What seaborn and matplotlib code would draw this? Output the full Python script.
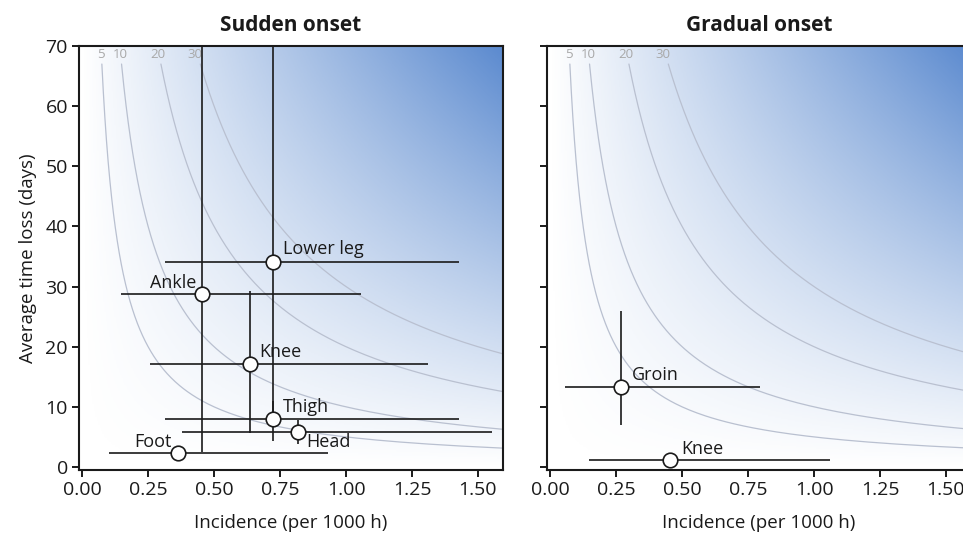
import numpy as np
import pandas as pd
import matplotlib.pyplot as plt
import seaborn as sns
from matplotlib.colors import LinearSegmentedColormap

# Values: incidence (per 1000 h) and average time loss (days)
sudden_sites = ['Lower leg', 'Ankle', 'Knee', 'Thigh', 'Head', 'Foot']
sudden_incidence = [0.723, 0.455, 0.636, 0.723, 0.817, 0.365]
sudden_inc_low = [0.314, 0.148, 0.258, 0.314, 0.377, 0.102]
sudden_inc_high = [1.428, 1.057, 1.310, 1.430, 1.552, 0.930]
sudden_days = [34.1, 28.8, 17.1, 8.0, 5.9, 2.3]
sudden_days_low = [9.0, 2.5, 5.6, 4.3, 3.8, 2.0]
sudden_days_high = [95.0, 85.0, 29.3, 11.0, 7.8, 2.6]

gradual_sites = ['Groin', 'Knee']
gradual_incidence = [0.269, 0.453]
gradual_inc_low = [0.057, 0.148]
gradual_inc_high = [0.794, 1.060]
gradual_days = [13.3, 1.2]
gradual_days_low = [7.0, 1.0]
gradual_days_high = [26.0, 1.4]

# burden (days lost per 1000 h) iso-lines
burden_levels = [5, 10, 20, 30]

# label placement (offset in pixels, alignment) per site
sudden_offsets = {'Lower leg': (10, 13, 'left'), 'Ankle': (-6, 11, 'right'), 'Knee': (9, 12, 'left'),
                  'Thigh': (10, 12, 'left'), 'Head': (9, -10, 'left'), 'Foot': (-7, 11, 'right')}
gradual_offsets = {'Groin': (11, 12, 'left'), 'Knee': (12, 11, 'left')}

sudden = pd.DataFrame({'site': sudden_sites, 'incidence': sudden_incidence,
                       'inc_low': sudden_inc_low, 'inc_high': sudden_inc_high,
                       'days': sudden_days, 'days_low': sudden_days_low, 'days_high': sudden_days_high})
gradual = pd.DataFrame({'site': gradual_sites, 'incidence': gradual_incidence,
                        'inc_low': gradual_inc_low, 'inc_high': gradual_inc_high,
                        'days': gradual_days, 'days_low': gradual_days_low, 'days_high': gradual_days_high})

sns.set_theme(style='ticks')
plt.rcParams['font.family'] = ['Open Sans', 'DejaVu Sans']

xlim = (-0.012, 1.595)
ylim = (-0.5, 70)
cmap = LinearSegmentedColormap.from_list('burden', ['#ffffff', '#5b8acf'])
ink = '#1a1a1a'

fig = plt.figure(figsize=(9.63, 5.36), dpi=100)
W, H = 963, 536
ax1 = fig.add_axes([79 / W, (H - 470) / H, 424 / W, 424 / H])
ax2 = fig.add_axes([547 / W, (H - 470) / H, 424 / W, 424 / H])


def draw_panel(ax, df, offsets, title):
    # background gradient = incidence x time loss
    gx = np.linspace(xlim[0], xlim[1], 300)
    gy = np.linspace(ylim[0], ylim[1], 300)
    X, Y = np.meshgrid(gx, gy)
    ax.imshow(np.clip(X * Y, 0, None), extent=[xlim[0], xlim[1], ylim[0], ylim[1]], origin='lower',
              aspect='auto', cmap=cmap, vmin=0, vmax=xlim[1] * ylim[1], zorder=0)

    # iso-burden curves
    for lvl in burden_levels:
        yy = np.linspace(0.3, 67.0, 400)
        sns.lineplot(x=lvl / yy, y=yy, ax=ax, color='#b9c0d0', lw=0.9, sort=False, zorder=1)
        ax.text(lvl / 70, 68.6, str(lvl), color='#a8a8a8', fontsize=9.5, ha='center', va='center', zorder=1)

    # confidence intervals
    ax.hlines(df['days'], df['inc_low'], df['inc_high'], color=ink, lw=1.2, zorder=2)
    ax.vlines(df['incidence'], df['days_low'], df['days_high'], color=ink, lw=1.2, zorder=2)
    sns.scatterplot(data=df, x='incidence', y='days', ax=ax, s=110, color='white',
                    edgecolor=ink, linewidth=1.2, zorder=3)

    for _, r in df.iterrows():
        dx, dy, ha = offsets[r['site']]
        ax.annotate(r['site'], (r['incidence'], r['days']), xytext=(dx, dy), textcoords='offset pixels',
                    ha=ha, va='center', fontsize=13, color=ink, zorder=4)

    ax.set_xlim(xlim)
    ax.set_ylim(ylim)
    ax.set_xticks([0, 0.25, 0.5, 0.75, 1.0, 1.25, 1.5])
    ax.set_xticklabels(['0.00', '0.25', '0.50', '0.75', '1.00', '1.25', '1.50'])
    ax.set_yticks(range(0, 71, 10))
    ax.tick_params(labelsize=14, length=5, width=1.4, color=ink, labelcolor=ink, pad=3)
    for sp in ax.spines.values():
        sp.set_linewidth(1.5)
        sp.set_color(ink)
        sp.set_zorder(5)
    ax.set_title(title, fontsize=15, fontweight='bold', pad=11, color=ink)
    ax.set_xlabel('Incidence (per 1000 h)', fontsize=13.5, color=ink, labelpad=11)


draw_panel(ax1, sudden, sudden_offsets, 'Sudden onset')
draw_panel(ax2, gradual, gradual_offsets, 'Gradual onset')
ax1.set_ylabel('Average time loss (days)', fontsize=13.5, color=ink, labelpad=6)
ax2.set_ylabel('')
ax2.set_yticklabels([])

fig.savefig('out.png', dpi=100)
